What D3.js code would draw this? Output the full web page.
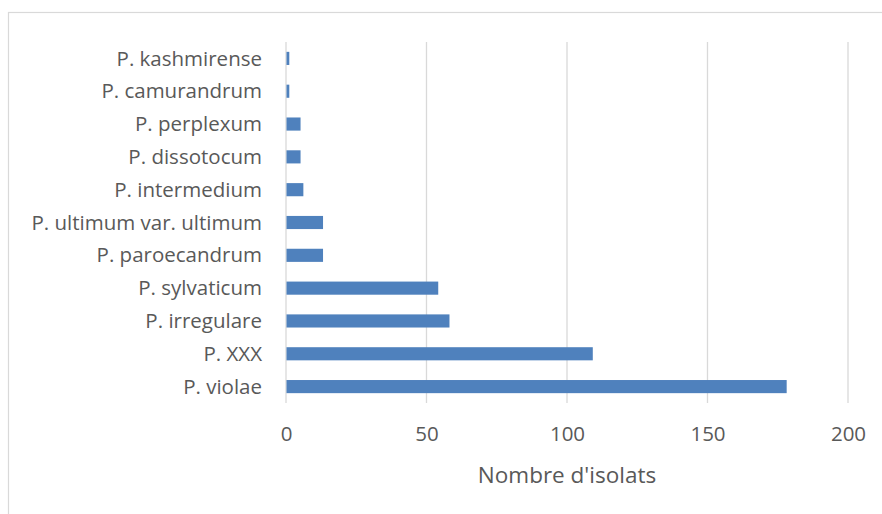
<!DOCTYPE html>
<html>
<head>
<meta charset="utf-8">
<script src="https://cdn.jsdelivr.net/npm/d3@7"></script>
<style>
  html, body { margin: 0; padding: 0; background: #fff; }
  svg { display: block; }
  text { font-family: "Open Sans", Lato, sans-serif; fill: #595959; }
</style>
</head>
<body>
<script>
// Pythium species and number of isolates
const species = [
  "P. kashmirense", "P. camurandrum", "P. perplexum", "P. dissotocum",
  "P. intermedium", "P. ultimum var. ultimum", "P. paroecandrum",
  "P. sylvaticum", "P. irregulare", "P. XXX", "P. violae"
];
const isolates = [1, 1, 5, 5, 6, 13, 13, 54, 58, 109, 178];
const xTicks = [0, 50, 100, 150, 200];
const xTitle = "Nombre d'isolats";

const W = 882, H = 514;
const margin = { left: 286, right: 34, top: 42, bottom: 111 };

const svg = d3.select("body").append("svg").attr("width", W).attr("height", H);

// chart frame
svg.append("rect")
  .attr("x", 8.5).attr("y", 12.5)
  .attr("width", W).attr("height", H)
  .attr("fill", "#fff").attr("stroke", "#d9d9d9").attr("stroke-width", 1.2);

const x = d3.scaleLinear().domain([0, 200]).range([margin.left, W - margin.right]);
const y = d3.scaleBand().domain(species).range([margin.top, H - margin.bottom]).paddingInner(0.6).paddingOuter(0.3);

// vertical gridlines
svg.append("g").selectAll("line").data(xTicks).join("line")
  .attr("x1", d => x(d)).attr("x2", d => x(d))
  .attr("y1", margin.top).attr("y2", H - margin.bottom)
  .attr("stroke", "#d9d9d9").attr("stroke-width", 1.3);

// bars
svg.append("g").selectAll("rect").data(species).join("rect")
  .attr("x", x(0) + 0.5)
  .attr("y", d => y(d))
  .attr("width", (d, i) => x(isolates[i]) - x(0))
  .attr("height", y.bandwidth())
  .attr("fill", "#4f81bd");

// category labels
svg.append("g").selectAll("text").data(species).join("text")
  .attr("x", margin.left - 24)
  .attr("y", d => y(d) + y.bandwidth() / 2)
  .attr("dy", "0.35em")
  .attr("text-anchor", "end")
  .attr("font-size", 20.5)
  .text(d => d);

// x axis tick labels
const xAxis = d3.axisBottom(x).tickValues(xTicks).tickSize(0).tickPadding(0);
const gx = svg.append("g").attr("transform", `translate(0,${H - margin.bottom + 23})`).call(xAxis);
gx.select(".domain").remove();
gx.selectAll("text").attr("font-size", 20.5).attr("font-family", null).attr("fill", "#595959");

// axis title
svg.append("text")
  .attr("x", (x(0) + x(200)) / 2)
  .attr("y", 483)
  .attr("text-anchor", "middle")
  .attr("font-size", 22.5)
  .text(xTitle);
</script>
</body>
</html>
